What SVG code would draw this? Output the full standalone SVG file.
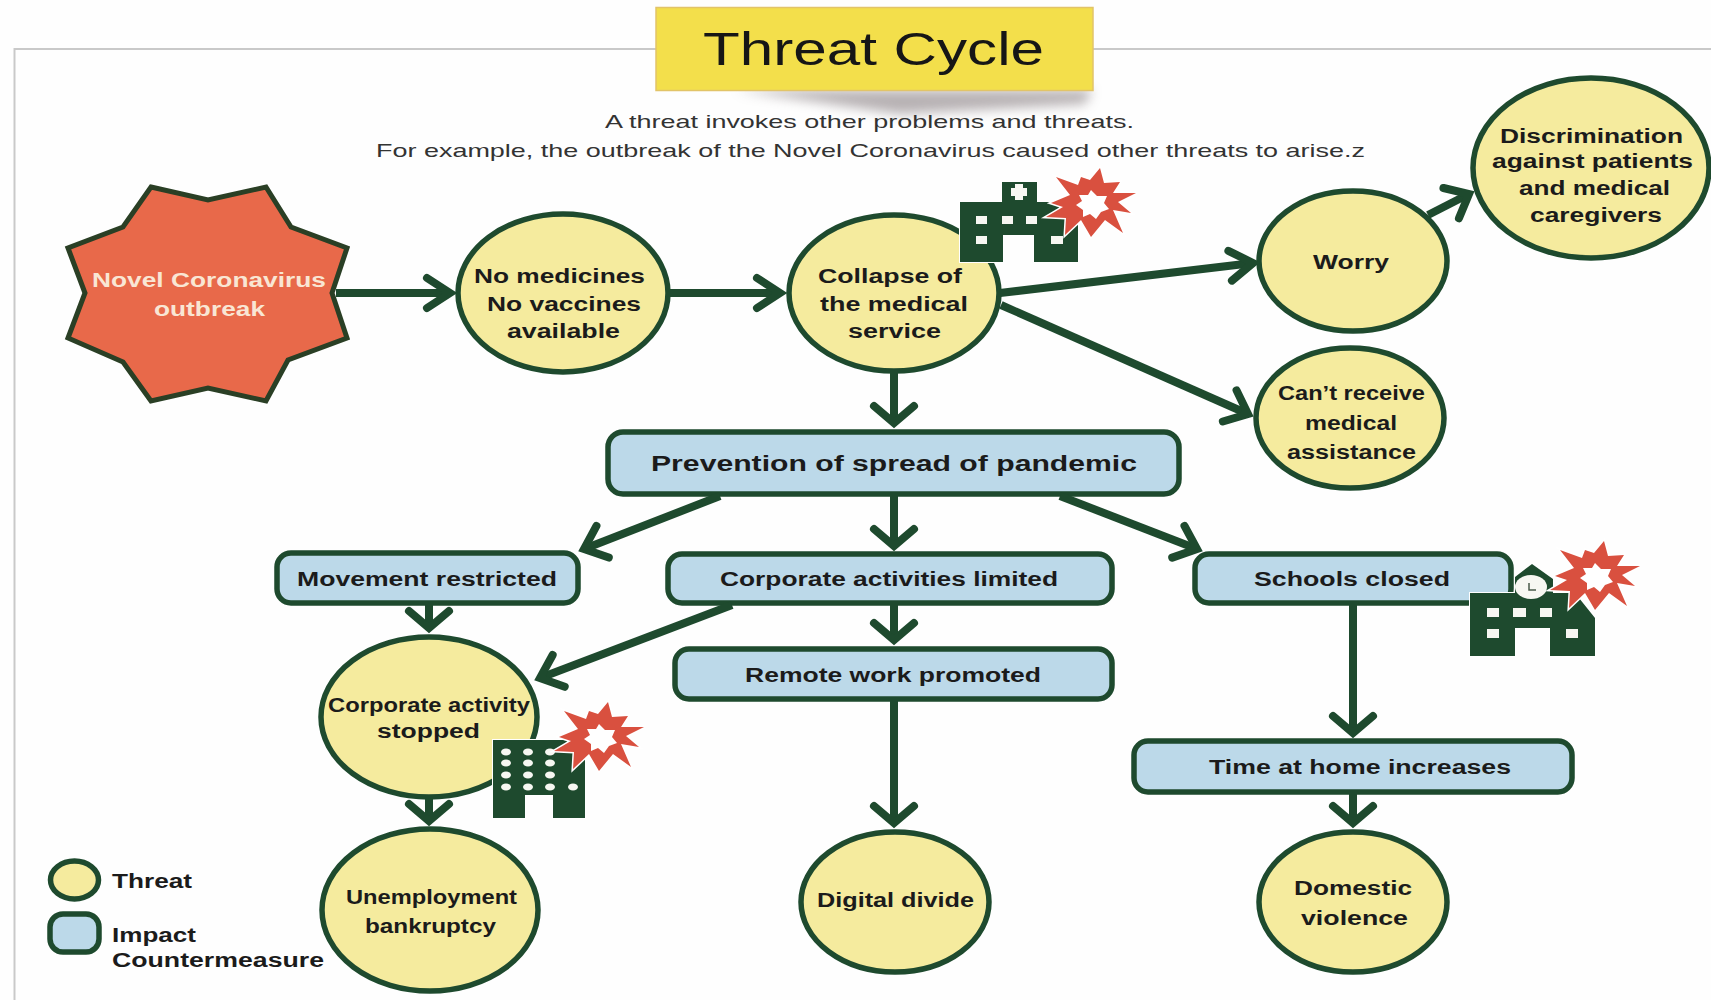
<svg xmlns="http://www.w3.org/2000/svg" xmlns:xlink="http://www.w3.org/1999/xlink" width="1711" height="1000" viewBox="0 0 1711 1000">
<style>
text{font-family:"Liberation Sans",Arial,sans-serif;text-anchor:start}
.l{font-weight:bold;font-size:20px;fill:#1b1b1b}
.c{fill:#f5eb9e;stroke:#1e4a2e;stroke-width:5.500}
.b{fill:#bcd9e9;stroke:#1e4a2e;stroke-width:5.500}
.a{fill:none;stroke:#1e4a2e;stroke-width:8}
.i{fill:#1e4a2e;stroke:#fff;stroke-width:2;paint-order:stroke}
.w{fill:#f7f7f2}
.m{fill:none;stroke:#1e4a2e;stroke-width:8;stroke-linecap:round;stroke-linejoin:miter}
</style>
<defs>
<filter id="blur" x="-20%" y="-100%" width="140%" height="300%"><feGaussianBlur stdDeviation="6"/></filter>
<marker id="ah" markerUnits="userSpaceOnUse" markerWidth="50" markerHeight="60" viewBox="0 0 50 60" refX="40" refY="30" orient="auto"><path class="m" d="M17 15L40 30L17 45"/></marker>
<marker id="av" markerUnits="userSpaceOnUse" markerWidth="50" markerHeight="60" viewBox="0 0 50 60" refX="40" refY="30" orient="auto"><path class="m" d="M23 10L40 30L23 50"/></marker>
<marker id="ad" markerUnits="userSpaceOnUse" markerWidth="50" markerHeight="60" viewBox="0 0 50 60" refX="40" refY="30" orient="auto"><path class="m" d="M20 13L40 30L20 47"/></marker>
<g id="burst">
<polygon points="-37,-28 -15,-20 -12,-28 -3,-25 7,-37 11,-22 27,-23 20,-12 43,-12 25,-3 38,8 20,5 30,28 12,15 -2,32 -12,15 -28,30 -27,13 -47,12 -30,2 -42,-2 -23,-10" fill="#d9503f" stroke="#fff" stroke-width="3" paint-order="stroke"/>
<polygon points="-14,-10 -5,-10 -2,-15 4,-9 14,-9 11,-2 16,4 8,7 3,14 -3,9 -10,12 -10,5 -17,0 -11,-4" fill="#fff"/>
</g>
</defs>
<rect width="1711" height="1000" fill="#fefefe"/>
<path d="M1711 49H14.500V1000" fill="none" stroke="#c9c9c9" stroke-width="2"/>

<g id="title">
<polygon points="735,90 1092,90 1085,104 900,114" fill="#9a9294" opacity=".7" filter="url(#blur)"/>
<rect x="656" y="7.500" width="437" height="83" fill="#f3df4b" stroke="#e2c468" stroke-width="1.500"/>
<text x="703" y="65" font-size="46" fill="#161616" textLength="341" lengthAdjust="spacingAndGlyphs">Threat Cycle</text>
</g>
<g id="subtitle" fill="#333">
<text x="605" y="128" font-size="19" textLength="529" lengthAdjust="spacingAndGlyphs">A threat invokes other problems and threats.</text>
<text x="376" y="157" font-size="19" textLength="989" lengthAdjust="spacingAndGlyphs">For example, the outbreak of the Novel Coronavirus caused other threats to arise.z</text>
</g>

<g id="n-outbreak">
<polygon points="151,187 208,200 266,187 291,227 347,248 332,293 347,338 288,360 266,401 208,388 151,401 123,362 68,338 85,293 68,248 123,227" fill="#e8694a" stroke="#2a3f25" stroke-width="5"/>
<text class="l" x="92" y="287" style="fill:#f9e6d4" textLength="234" lengthAdjust="spacingAndGlyphs">Novel Coronavirus</text>
<text class="l" x="154" y="316" style="fill:#f9e6d4" textLength="111" lengthAdjust="spacingAndGlyphs">outbreak</text>
</g>
<g id="n-nomed">
<ellipse class="c" cx="563" cy="293" rx="105" ry="79"/>
<text class="l" x="474" y="283" textLength="171" lengthAdjust="spacingAndGlyphs">No medicines</text>
<text class="l" x="487" y="311" textLength="154" lengthAdjust="spacingAndGlyphs">No vaccines</text>
<text class="l" x="507" y="338" textLength="113" lengthAdjust="spacingAndGlyphs">available</text>
</g>
<g id="n-collapse">
<ellipse class="c" cx="894" cy="293" rx="105" ry="78"/>
<text class="l" x="818" y="283" textLength="144" lengthAdjust="spacingAndGlyphs">Collapse of</text>
<text class="l" x="820" y="311" textLength="148" lengthAdjust="spacingAndGlyphs">the medical</text>
<text class="l" x="848" y="338" textLength="93" lengthAdjust="spacingAndGlyphs">service</text>
</g>
<g id="n-worry">
<ellipse class="c" cx="1353" cy="261" rx="94" ry="70"/>
<text class="l" x="1313" y="269" textLength="76" lengthAdjust="spacingAndGlyphs">Worry</text>
</g>
<g id="n-discrimination">
<ellipse class="c" cx="1591" cy="168" rx="118" ry="90"/>
<text class="l" x="1500" y="143" textLength="183" lengthAdjust="spacingAndGlyphs">Discrimination</text>
<text class="l" x="1492" y="168" textLength="201" lengthAdjust="spacingAndGlyphs">against patients</text>
<text class="l" x="1519" y="195" textLength="151" lengthAdjust="spacingAndGlyphs">and medical</text>
<text class="l" x="1530" y="222" textLength="132" lengthAdjust="spacingAndGlyphs">caregivers</text>
</g>
<g id="n-cantreceive">
<ellipse class="c" cx="1350" cy="418" rx="94" ry="70"/>
<text class="l" x="1278" y="400" textLength="147" lengthAdjust="spacingAndGlyphs">Can’t receive</text>
<text class="l" x="1305" y="430" textLength="92" lengthAdjust="spacingAndGlyphs">medical</text>
<text class="l" x="1287" y="459" textLength="129" lengthAdjust="spacingAndGlyphs">assistance</text>
</g>
<g id="n-prevention">
<rect class="b" x="608" y="432" width="571" height="62" rx="15"/>
<text class="l" x="651" y="471" style="font-size:22px" textLength="486" lengthAdjust="spacingAndGlyphs">Prevention of spread of pandemic</text>
</g>
<g id="n-movement">
<rect class="b" x="277" y="553" width="301" height="50" rx="14"/>
<text class="l" x="297" y="586" textLength="260" lengthAdjust="spacingAndGlyphs">Movement restricted</text>
</g>
<g id="n-corplimited">
<rect class="b" x="668" y="554" width="444" height="49" rx="14"/>
<text class="l" x="720" y="586" textLength="338" lengthAdjust="spacingAndGlyphs">Corporate activities limited</text>
</g>
<g id="n-schools">
<rect class="b" x="1195" y="554" width="316" height="49" rx="14"/>
<text class="l" x="1254" y="586" textLength="196" lengthAdjust="spacingAndGlyphs">Schools closed</text>
</g>
<g id="n-remote">
<rect class="b" x="675" y="649" width="437" height="50" rx="14"/>
<text class="l" x="745" y="682" textLength="296" lengthAdjust="spacingAndGlyphs">Remote work promoted</text>
</g>
<g id="n-time">
<rect class="b" x="1134" y="741" width="438" height="51" rx="14"/>
<text class="l" x="1209" y="774" textLength="302" lengthAdjust="spacingAndGlyphs">Time at home increases</text>
</g>
<g id="n-corpstopped">
<ellipse class="c" cx="429" cy="717" rx="108" ry="80"/>
<text class="l" x="328" y="712" textLength="202" lengthAdjust="spacingAndGlyphs">Corporate activity</text>
<text class="l" x="377" y="738" textLength="103" lengthAdjust="spacingAndGlyphs">stopped</text>
</g>
<g id="n-unemployment">
<ellipse class="c" cx="430" cy="910" rx="108" ry="81"/>
<text class="l" x="346" y="904" textLength="171" lengthAdjust="spacingAndGlyphs">Unemployment</text>
<text class="l" x="365" y="933" textLength="131" lengthAdjust="spacingAndGlyphs">bankruptcy</text>
</g>
<g id="n-digital">
<ellipse class="c" cx="895" cy="902" rx="94" ry="70"/>
<text class="l" x="817" y="907" textLength="157" lengthAdjust="spacingAndGlyphs">Digital divide</text>
</g>
<g id="n-domestic">
<ellipse class="c" cx="1353" cy="902" rx="94" ry="70"/>
<text class="l" x="1294" y="895" textLength="118" lengthAdjust="spacingAndGlyphs">Domestic</text>
<text class="l" x="1301" y="925" textLength="107" lengthAdjust="spacingAndGlyphs">violence</text>
</g>

<g id="connectors">
<path class="a" marker-end="url(#ah)" d="M336 293H450"/>
<path class="a" marker-end="url(#ah)" d="M670 293H780"/>
<path class="a" marker-end="url(#av)" d="M894 372V423"/>
<path class="a" marker-end="url(#ah)" d="M1000 293L1253 263"/>
<path class="a" marker-end="url(#ad)" d="M1001 305L1248 414"/>
<path class="a" marker-end="url(#ad)" d="M1428 215L1469 194"/>
<path class="a" marker-end="url(#ad)" d="M720 496L584 549"/>
<path class="a" marker-end="url(#av)" d="M894 495V546"/>
<path class="a" marker-end="url(#ad)" d="M1060 496L1197 549"/>
<path class="a" marker-end="url(#av)" d="M429 604V628"/>
<path class="a" marker-end="url(#ad)" d="M732 605L540 678"/>
<path class="a" marker-end="url(#av)" d="M894 604V640"/>
<path class="a" marker-end="url(#av)" d="M894 700V823"/>
<path class="a" marker-end="url(#av)" d="M1353 604V733"/>
<path class="a" marker-end="url(#av)" d="M1353 793V823"/>
<path class="a" marker-end="url(#av)" d="M429 798V821"/>
</g>

<g id="icon-hospital">
<path class="i" d="M1002 182H1037V202H1078V262H1034V235H1003V262H960V202H1002Z"/>
<path class="w" d="M1015 184h8v4h4v8h-4v4h-8v-4h-4v-8h4ZM976 216h11v8h-11ZM1002 216h11v8h-11ZM1026 216h11v8h-11ZM976 236h11v8h-11ZM1051 236h12v8h-12Z"/>
<use xlink:href="#burst" href="#burst" transform="translate(1093,205)"/>
</g>
<g id="icon-office">
<path class="i" d="M493 740H585V818H553V795H525V818H493Z"/>
<g class="w">
<ellipse cx="506" cy="752" rx="5" ry="3.500"/><ellipse cx="528" cy="752" rx="5" ry="3.500"/><ellipse cx="550" cy="752" rx="5" ry="3.500"/>
<ellipse cx="506" cy="763" rx="5" ry="3.500"/><ellipse cx="528" cy="763" rx="5" ry="3.500"/><ellipse cx="550" cy="763" rx="5" ry="3.500"/>
<ellipse cx="506" cy="775" rx="5" ry="3.500"/><ellipse cx="528" cy="775" rx="5" ry="3.500"/><ellipse cx="550" cy="775" rx="5" ry="3.500"/>
<ellipse cx="506" cy="787" rx="5" ry="3.500"/><ellipse cx="528" cy="787" rx="5" ry="3.500"/><ellipse cx="550" cy="787" rx="5" ry="3.500"/><ellipse cx="573" cy="787" rx="5" ry="3.500"/>
</g>
<use xlink:href="#burst" href="#burst" transform="translate(601,739)"/>
</g>
<g id="icon-school">
<path class="i" d="M1470 593H1515V577L1532 564L1553 579V593H1575L1595 618V656H1550V628H1515V656H1470Z"/>
<ellipse cx="1531" cy="587" rx="16" ry="12" fill="#f7f7f2"/>
<path d="M1529 583V590H1536" fill="none" stroke="#4a5a4a" stroke-width="1.500"/>
<path class="w" d="M1487 608h12v9h-12ZM1513 608h13v9h-13ZM1540 608h12v9h-12ZM1487 629h12v9h-12ZM1566 629h12v9h-12Z"/>
<use xlink:href="#burst" href="#burst" transform="translate(1597,578)"/>
</g>

<g id="legend">
<ellipse class="c" cx="74.500" cy="880" rx="24" ry="19"/>
<rect class="b" x="50" y="914" width="49" height="38" rx="13"/>
<text class="l" x="112" y="888" textLength="80" lengthAdjust="spacingAndGlyphs">Threat</text>
<text class="l" x="112" y="942" textLength="84" lengthAdjust="spacingAndGlyphs">Impact</text>
<text class="l" x="112" y="967" textLength="212" lengthAdjust="spacingAndGlyphs">Countermeasure</text>
</g>
</svg>
